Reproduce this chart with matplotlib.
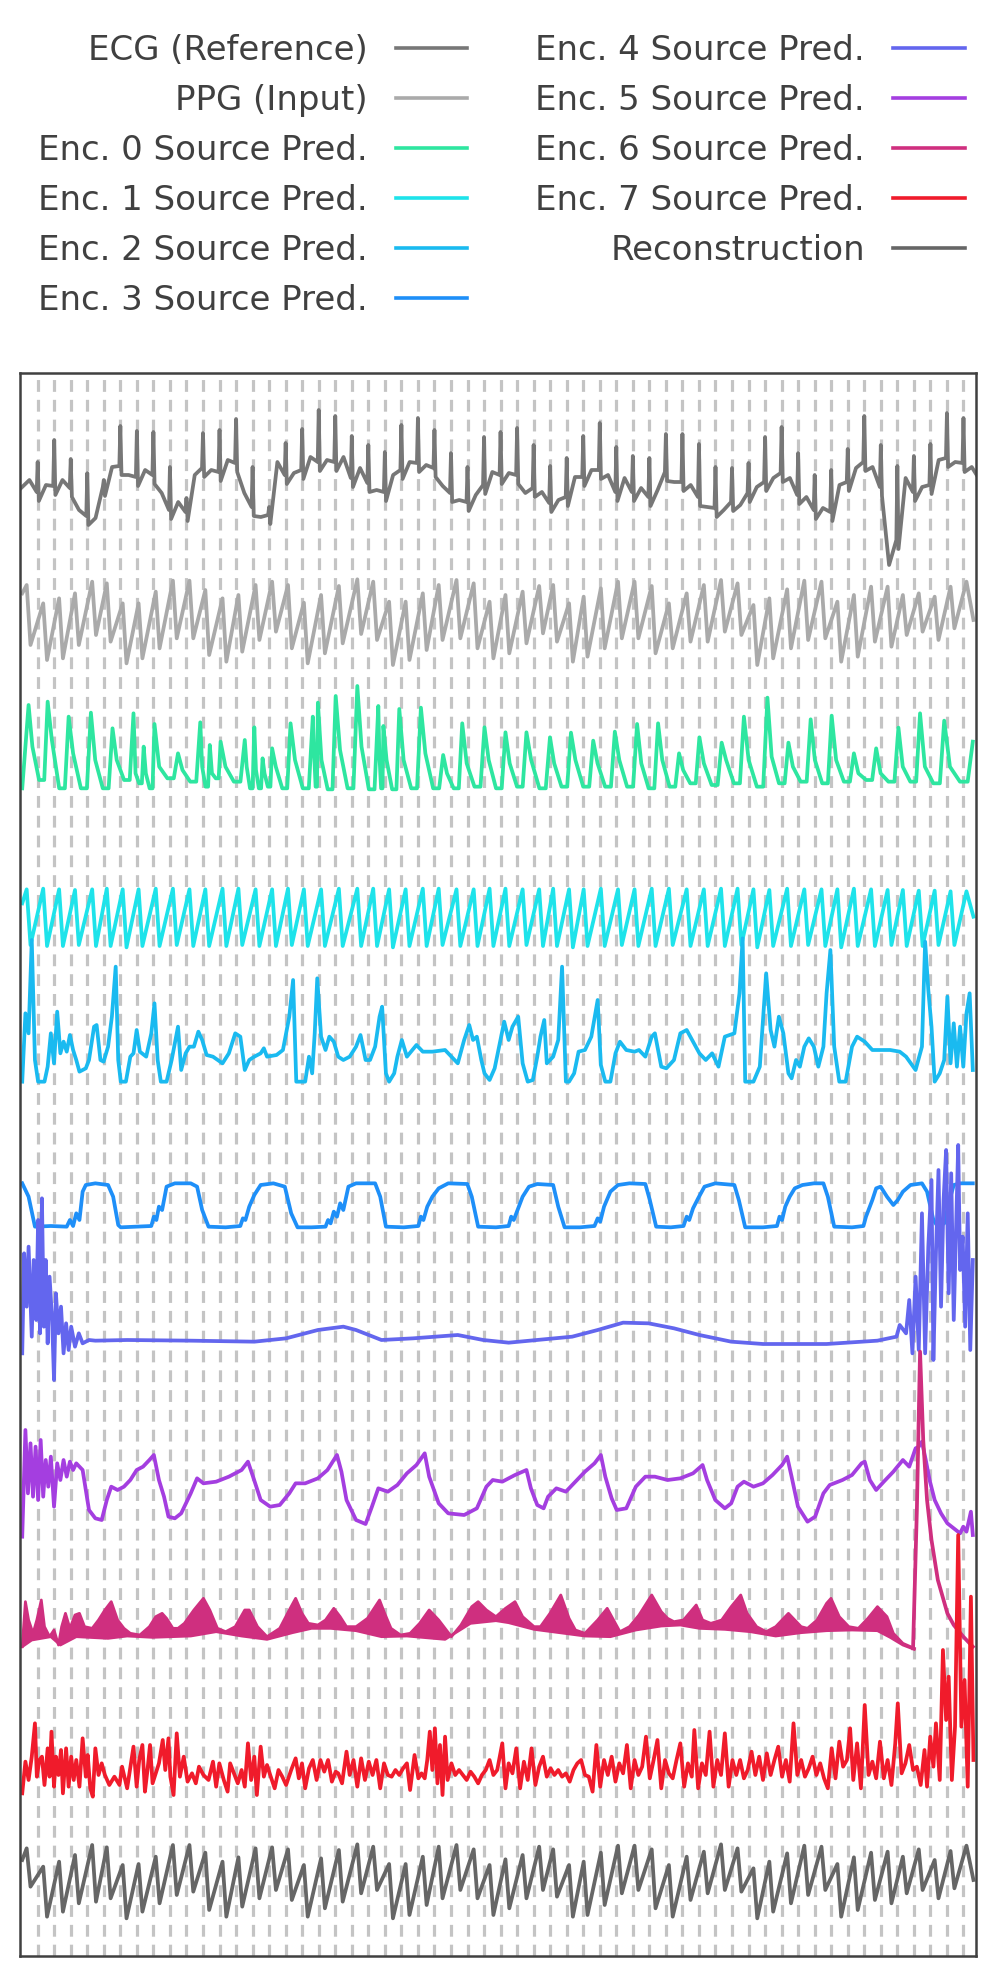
import numpy as np
import matplotlib
matplotlib.use('Agg')
import matplotlib.pyplot as plt
from matplotlib.lines import Line2D

labels = ['ECG (Reference)', 'PPG (Input)',
          'Enc. 0 Source Pred.', 'Enc. 1 Source Pred.', 'Enc. 2 Source Pred.',
          'Enc. 3 Source Pred.', 'Enc. 4 Source Pred.', 'Enc. 5 Source Pred.',
          'Enc. 6 Source Pred.', 'Enc. 7 Source Pred.', 'Reconstruction']
colors = ['#777777', '#aaaaaa', '#2ee6a0', '#1ee3ea', '#1abaf0', '#1e8ff8',
          '#6366ee', '#a43ee0', '#cf2f7f', '#f01b2b', '#666666']

# ---- data (time axis in samples, values as read per trace) ----
n_beats = 57

# ECG baseline every half beat (from beat -1 to 56.5) and R-peak per beat
ecg_base = [488, 480, 492, 485, 486, 480, 488, 510, 516, 518,
            487, 467, 466, 475, 477, 470, 475, 493, 510, 502,
            512, 475, 468, 470, 472, 460, 463, 493, 507, 517,
            515, 462, 475, 473, 470, 457, 462, 460, 462, 457,
            478, 468, 483, 490, 492, 475, 470, 462, 463, 465,
            468, 486, 493, 500, 502, 495, 485, 472, 475, 473,
            475, 493, 488, 492, 503, 500, 497, 477, 477, 470,
            470, 475, 492, 478, 492, 488, 497, 490, 472, 482,
            482, 485, 497, 507, 508, 510, 502, 505, 493, 487,
            482, 478, 473, 478, 495, 497, 510, 508, 512, 485,
            482, 468, 462, 467, 487, 565, 540, 478, 492, 487,
            485, 460, 458, 462, 463, 467]
ecg_peak = [462, 440, 459, 473, 480, 426, 431, 432, 467, 498,
            433, 430, 419, 467, 507, 443, 429, 410, 416, 436,
            445, 452, 425, 418, 430, 453, 467, 437, 432, 428,
            445, 466, 458, 436, 423, 447, 456, 458, 434, 434,
            444, 467, 468, 463, 437, 427, 453, 475, 470, 449,
            416, 445, 466, 456, 444, 413, 418]
ecg_end = 475

# pulse-locked traces: peak times, peak and trough readings
pulse_x = [42, 68, 93, 118, 145, 168, 193, 218, 245, 272, 298, 323, 350, 375, 402,
           428, 453, 478, 505, 533, 562, 587, 612, 638, 665, 690, 718, 745, 770, 795,
           822, 848, 870, 895, 918, 945, 972, 998, 1025, 1052, 1080, 1107, 1134, 1160,
           1185, 1210, 1238, 1265, 1292, 1317, 1343, 1370, 1396, 1420, 1445, 1470,
           1495, 1520]
ppg_peak = [75, 130, 115, 100, 65, 70, 130, 130, 95, 62, 62, 90, 115, 105, 75, 65, 75,
            128, 105, 78, 58, 65, 125, 125, 100, 75, 60, 70, 125, 105, 95, 78, 75, 130,
            110, 85, 65, 65, 78, 130, 100, 75, 60, 70, 135, 115, 88, 62, 65, 125, 105,
            80, 80, 105, 100, 110, 80, 65]
ppg_trough = [255, 300, 295, 255, 225, 245, 310, 295, 265, 235, 235, 285, 305, 275,
              240, 215, 265, 310, 280, 250, 222, 240, 315, 300, 270, 240, 235, 265,
              295, 280, 250, 220, 245, 305, 290, 265, 235, 235, 280, 265, 245, 245,
              215, 225, 315, 295, 265, 240, 235, 305, 290, 245, 260, 225, 215, 240,
              205, 180]
rec_peak = [565, 620, 605, 585, 555, 562, 615, 612, 590, 555, 555, 578, 605, 592, 565,
            562, 568, 615, 595, 570, 553, 560, 612, 612, 590, 560, 555, 568, 615, 598,
            585, 560, 568, 615, 605, 578, 557, 557, 568, 615, 590, 575, 553, 565, 625,
            605, 580, 557, 560, 612, 592, 578, 575, 590, 568, 600, 573, 557]
rec_trough = [680, 770, 755, 730, 725, 715, 775, 755, 730, 705, 695, 750, 770, 740,
              715, 690, 720, 770, 745, 725, 700, 690, 775, 765, 735, 715, 690, 715,
              765, 745, 715, 690, 710, 770, 765, 735, 700, 690, 745, 770, 720, 700,
              690, 695, 775, 755, 730, 705, 690, 770, 750, 720, 730, 700, 690, 715,
              685, 660]
enc1_peak = [88, 86, 88, 90, 88, 86, 88, 88, 86, 86, 88, 88, 86, 86, 88, 88, 86, 88,
             88, 86, 86, 86, 88, 88, 86, 86, 88, 88, 86, 86, 88, 88, 86, 88, 88, 86,
             88, 88, 86, 86, 88, 88, 86, 86, 88, 90, 86, 88, 88, 88, 86, 88, 90, 90,
             92, 92, 94, 94]
enc1_trough = [255, 258, 258, 255, 258, 258, 262, 258, 258, 255, 258, 258, 258, 255,
               258, 258, 255, 258, 258, 258, 258, 258, 262, 258, 258, 255, 258, 258,
               258, 258, 255, 258, 258, 262, 258, 258, 255, 258, 258, 255, 258, 258,
               258, 255, 262, 258, 258, 255, 258, 262, 258, 258, 255, 258, 258, 255,
               255, 170]

# Enc 0: peak time, peak, shoulder, following trough
enc0_x = [45, 75, 108, 143, 177, 210, 226, 243, 280, 315, 330, 347, 385, 400, 413,
          428, 457, 492, 500, 528, 562, 595, 603, 628, 662, 697, 727, 762, 795, 828,
          865, 898, 933, 967, 1002, 1035, 1068, 1100, 1135, 1170, 1207, 1240, 1275,
          1308, 1343, 1378, 1413, 1447, 1485]
enc0_peak = [435, 425, 470, 458, 505, 460, 560, 492, 580, 487, 555, 545, 540, 502, 595,
             565, 490, 470, 428, 408, 378, 438, 498, 447, 443, 585, 490, 502, 517, 517,
             532, 518, 542, 515, 492, 490, 580, 532, 548, 470, 413, 548, 478, 467, 580,
             565, 503, 460, 482]
enc0_shoulder = [560, 540, 580, 600, 600, 640, 640, 620, 630, 620, 640, 620, 620, 630,
                 640, 620, 600, 560, 600, 570, 560, 580, 600, 600, 580, 640, 610, 600,
                 610, 600, 610, 600, 610, 600, 610, 600, 630, 610, 600, 600, 590, 620,
                 600, 600, 640, 640, 620, 620, 620]
enc0_trough = [660, 685, 685, 685, 660, 670, 685, 655, 665, 680, 655, 665, 685, 685,
               680, 685, 685, 680, 688, 685, 688, 685, 688, 685, 685, 685, 680, 685,
               680, 685, 680, 680, 680, 680, 685, 680, 670, 675, 670, 680, 670, 665,
               670, 665, 660, 665, 665, 670, 665]

enc3_pts = [(35, 190), (45, 230), (55, 320), (80, 318), (105, 320), (110, 300), (115, 318),
            (120, 280), (125, 300), (130, 215), (135, 195), (150, 190), (170, 195),
            (178, 230), (186, 315), (190, 322), (215, 320), (238, 318), (242, 290),
            (246, 300), (250, 260), (255, 270), (262, 200), (275, 190), (300, 190),
            (310, 200), (318, 270), (328, 320), (355, 322), (378, 318), (382, 295),
            (386, 300), (392, 260), (400, 225), (410, 195), (430, 190), (448, 200),
            (458, 280), (468, 322), (490, 322), (512, 320), (516, 300), (520, 310),
            (525, 275), (530, 290), (535, 250), (540, 270), (548, 200), (560, 190),
            (590, 190), (598, 230), (607, 320), (635, 322), (658, 318), (662, 290),
            (666, 300), (672, 260), (680, 230), (690, 205), (705, 190), (735, 192),
            (742, 230), (752, 320), (780, 322), (800, 318), (804, 290), (808, 300),
            (815, 265), (822, 230), (832, 200), (845, 192), (870, 195), (878, 260),
            (888, 322), (912, 322), (935, 318), (940, 295), (944, 305), (950, 260),
            (960, 215), (972, 195), (990, 190), (1015, 192), (1022, 240), (1032, 320),
            (1055, 322), (1075, 318), (1080, 290), (1084, 300), (1090, 265), (1098, 235),
            (1108, 200), (1125, 190), (1155, 195), (1162, 240), (1172, 322), (1200, 322),
            (1222, 318), (1226, 290), (1230, 300), (1235, 260), (1242, 230), (1250, 205),
            (1262, 195), (1280, 190), (1295, 190), (1302, 230), (1312, 320), (1340, 322),
            (1358, 318), (1362, 290), (1366, 270), (1372, 240), (1378, 205), (1385, 200),
            (1395, 230), (1405, 255), (1412, 240), (1420, 215), (1432, 195), (1450, 190),
            (1458, 215), (1468, 300), (1475, 320), (1485, 310), (1492, 250), (1500, 195),
            (1510, 190), (1530, 190)]

enc2_pts = [(35, 665), (40, 460), (45, 520), (50, 240), (55, 600), (60, 665), (70, 665),
            (75, 620), (80, 520), (85, 610), (90, 455), (95, 580), (100, 545), (105, 575),
            (110, 525), (115, 570), (120, 600), (125, 635), (135, 625), (140, 600),
            (148, 500), (152, 495), (158, 600), (163, 605), (170, 560), (176, 470),
            (182, 320), (186, 600), (190, 665), (198, 665), (205, 590), (210, 580),
            (215, 510), (220, 575), (230, 590), (238, 520), (243, 430), (248, 600),
            (253, 665), (262, 665), (270, 600), (280, 500), (285, 630), (292, 580),
            (298, 560), (305, 560), (312, 515), (318, 540), (325, 585), (335, 590),
            (350, 610), (360, 580), (370, 520), (378, 530), (385, 630), (392, 600),
            (400, 590), (410, 580), (415, 565), (420, 590), (435, 585), (445, 570),
            (455, 470), (461, 360), (466, 665), (480, 665), (486, 590), (491, 640),
            (495, 520), (499, 355), (505, 530), (512, 570), (518, 530), (525, 545),
            (532, 590), (540, 600), (550, 590), (560, 560), (567, 525), (575, 600),
            (582, 600), (590, 560), (597, 470), (601, 440), (607, 640), (612, 665),
            (620, 640), (625, 590), (632, 540), (640, 590), (655, 555), (665, 575),
            (680, 575), (700, 570), (710, 590), (720, 610), (730, 540), (738, 495),
            (744, 540), (750, 530), (757, 600), (762, 640), (770, 660), (778, 625),
            (785, 560), (793, 485), (800, 540), (806, 500), (815, 470), (822, 610),
            (830, 665), (838, 660), (845, 590), (850, 530), (856, 480), (860, 610),
            (870, 590), (878, 540), (884, 320), (890, 665), (895, 665), (903, 640),
            (910, 575), (920, 570), (930, 530), (940, 420), (945, 615), (952, 665),
            (960, 665), (968, 580), (975, 545), (985, 570), (998, 575), (1005, 570),
            (1015, 590), (1025, 530), (1030, 520), (1040, 620), (1048, 625), (1060, 600),
            (1070, 520), (1080, 510), (1090, 545), (1100, 580), (1110, 600), (1120, 580),
            (1130, 620), (1140, 530), (1155, 520), (1163, 400), (1168, 235), (1172, 665),
            (1185, 665), (1195, 620), (1205, 340), (1212, 510), (1218, 560), (1225, 470),
            (1232, 520), (1240, 640), (1245, 655), (1252, 600), (1258, 620), (1265, 560),
            (1272, 535), (1280, 560), (1287, 620), (1295, 560), (1300, 400), (1306, 270),
            (1312, 560), (1320, 665), (1330, 665), (1340, 560), (1348, 530), (1360, 545),
            (1372, 570), (1385, 570), (1400, 570), (1415, 575), (1425, 590), (1440, 630),
            (1450, 560), (1455, 245), (1460, 390), (1465, 500), (1470, 665), (1478, 640),
            (1485, 600), (1490, 410), (1495, 610), (1500, 490), (1505, 620), (1510, 500),
            (1515, 620), (1520, 460), (1525, 400), (1530, 630)]

enc4_pts = [(35, 700), (38, 400), (42, 560), (45, 380), (50, 650), (53, 420), (57, 600),
            (60, 300), (63, 640), (66, 235), (69, 620), (72, 420), (75, 670), (78, 470),
            (82, 600), (85, 780), (88, 520), (92, 640), (96, 560), (100, 700), (104, 610),
            (108, 690), (112, 620), (118, 680), (124, 640), (130, 670), (140, 660),
            (150, 662), (200, 660), (300, 662), (400, 665), (450, 655), (500, 630),
            (540, 620), (560, 630), (600, 660), (650, 655), (720, 645), (760, 660),
            (800, 668), (900, 650), (940, 630), (980, 608), (1020, 610), (1060, 625),
            (1100, 645), (1150, 665), (1200, 672), (1300, 672), (1380, 662), (1410, 650),
            (1415, 615), (1425, 640), (1430, 540), (1435, 700), (1440, 470), (1445, 690),
            (1450, 280), (1455, 700), (1460, 380), (1465, 180), (1468, 720), (1472, 400),
            (1476, 150), (1480, 560), (1484, 240), (1488, 90), (1492, 520), (1496, 160),
            (1500, 600), (1504, 300), (1507, 75), (1510, 450), (1514, 350), (1518, 620),
            (1522, 280), (1526, 690), (1530, 420)]

enc5_pts = [(35, 470), (40, 150), (44, 340), (48, 190), (52, 350), (56, 200), (60, 360),
            (64, 180), (68, 350), (72, 240), (76, 320), (80, 230), (85, 380), (90, 250),
            (95, 300), (100, 240), (105, 290), (110, 245), (115, 270), (120, 250),
            (125, 260), (130, 270), (140, 390), (150, 415), (160, 420), (168, 360),
            (175, 320), (185, 330), (195, 320), (205, 300), (215, 270), (225, 260),
            (235, 240), (242, 225), (250, 300), (258, 350), (265, 410), (275, 415),
            (285, 400), (300, 340), (310, 295), (320, 310), (340, 305), (360, 290),
            (380, 270), (390, 245), (398, 290), (410, 360), (425, 380), (440, 375),
            (455, 340), (465, 310), (480, 310), (500, 295), (515, 270), (530, 225),
            (537, 275), (545, 360), (560, 420), (575, 432), (585, 380), (595, 325),
            (610, 335), (625, 315), (640, 280), (655, 255), (668, 220), (675, 290),
            (690, 370), (705, 400), (730, 405), (750, 385), (765, 320), (775, 300),
            (790, 305), (810, 285), (828, 270), (835, 325), (845, 375), (855, 385),
            (862, 350), (875, 325), (890, 335), (905, 305), (920, 275), (935, 250),
            (945, 225), (952, 290), (962, 355), (970, 390), (985, 385), (1000, 320),
            (1015, 290), (1030, 290), (1050, 300), (1070, 295), (1090, 280), (1105, 255),
            (1112, 300), (1125, 360), (1140, 385), (1150, 370), (1160, 320), (1170, 305),
            (1185, 320), (1200, 310), (1215, 285), (1230, 255), (1238, 230), (1245, 290),
            (1255, 380), (1270, 425), (1282, 410), (1295, 340), (1305, 315), (1325, 300),
            (1340, 285), (1355, 250), (1360, 245), (1368, 300), (1378, 330), (1390, 305),
            (1405, 275), (1420, 240), (1430, 260), (1440, 205), (1445, 200), (1450, 185),
            (1456, 240), (1462, 300), (1470, 360), (1480, 400), (1490, 430), (1500, 445),
            (1510, 460), (1515, 440), (1520, 455), (1527, 395), (1530, 465)]

enc6_upper = [(35, 800), (40, 665), (45, 720), (52, 760), (58, 720), (65, 660), (70, 740),
              (78, 770), (85, 750), (92, 795), (97, 740), (103, 700), (110, 745),
              (118, 705), (125, 700), (133, 740), (145, 745), (155, 720), (165, 690),
              (175, 665), (185, 720), (195, 745), (205, 760), (220, 765), (235, 740),
              (245, 710), (255, 700), (262, 715), (272, 745), (280, 745), (290, 730),
              (305, 690), (320, 655), (330, 690), (342, 745), (355, 755), (370, 740),
              (385, 690), (392, 690), (405, 740), (420, 770), (440, 745), (455, 690),
              (465, 655), (475, 700), (485, 730), (500, 735), (512, 720), (525, 685),
              (535, 710), (545, 740), (560, 740), (578, 715), (597, 660), (605, 700),
              (615, 745), (630, 765), (645, 760), (660, 730), (675, 690), (690, 720),
              (700, 745), (710, 770), (725, 735), (742, 680), (752, 665), (765, 690),
              (780, 710), (795, 685), (810, 665), (822, 710), (840, 740), (850, 740),
              (865, 700), (882, 645), (895, 715), (905, 750), (920, 760), (940, 720),
              (955, 685), (965, 720), (975, 755), (990, 740), (1005, 705), (1025, 645),
              (1040, 695), (1050, 715), (1060, 725), (1075, 720), (1095, 675),
              (1105, 720), (1118, 730), (1135, 720), (1150, 680), (1165, 645),
              (1175, 700), (1190, 740), (1205, 755), (1220, 740), (1240, 700),
              (1250, 720), (1260, 740), (1270, 745), (1285, 720), (1300, 670),
              (1307, 655), (1320, 710), (1335, 740), (1350, 745), (1365, 715),
              (1380, 680), (1395, 710), (1405, 760), (1420, 790), (1438, 805)]
enc6_lower = [(35, 800), (50, 780), (80, 770), (95, 795), (120, 770), (170, 775),
              (200, 768), (240, 772), (300, 768), (340, 755), (380, 768), (420, 778),
              (460, 758), (490, 745), (520, 745), (560, 752), (600, 770), (640, 768),
              (700, 778), (740, 730), (780, 722), (800, 728), (840, 748), (880, 758),
              (920, 768), (960, 770), (1000, 750), (1040, 738), (1070, 735), (1100, 745),
              (1140, 748), (1180, 755), (1220, 768), (1260, 758), (1300, 752),
              (1340, 750), (1380, 752), (1400, 772), (1420, 795), (1438, 808)]
enc6_tail = [(1436, 805), (1442, 390), (1447, -85), (1452, 180), (1458, 360), (1465, 480),
             (1475, 600), (1490, 700), (1500, 735), (1515, 770), (1530, 800)]

enc7_pts = [(35, 400), (40, 305), (45, 360), (50, 290), (55, 190), (58, 350), (62, 300),
            (66, 290), (70, 375), (75, 265), (78, 350), (81, 215), (85, 380), (88, 290),
            (92, 345), (96, 270), (99, 400), (104, 265), (108, 380), (112, 290),
            (116, 360), (120, 300), (125, 380), (130, 235), (135, 350), (138, 285),
            (142, 385), (146, 410), (150, 265), (155, 345), (160, 310), (165, 345),
            (172, 375), (180, 350), (188, 375), (192, 320), (200, 385), (206, 310),
            (210, 260), (215, 380), (219, 300), (224, 255), (228, 395), (232, 330),
            (236, 255), (240, 370), (245, 340), (250, 310), (256, 240), (260, 330),
            (265, 235), (268, 350), (273, 405), (278, 220), (283, 350), (289, 290),
            (295, 365), (302, 340), (308, 370), (313, 320), (320, 345), (328, 360),
            (335, 305), (340, 380), (345, 310), (352, 360), (358, 395), (362, 310),
            (368, 340), (374, 370), (380, 330), (385, 380), (390, 250), (395, 360),
            (400, 290), (404, 405), (410, 260), (415, 350), (420, 315), (425, 345),
            (432, 385), (438, 330), (444, 350), (450, 375), (458, 330), (465, 295),
            (470, 355), (475, 310), (480, 385), (486, 325), (492, 300), (498, 360),
            (504, 300), (510, 335), (516, 300), (522, 365), (528, 335), (532, 340),
            (538, 370), (545, 275), (550, 345), (556, 300), (562, 380), (568, 295),
            (574, 360), (580, 305), (586, 345), (592, 300), (598, 385), (604, 310),
            (610, 345), (616, 350), (622, 330), (628, 345), (634, 325), (640, 310),
            (645, 390), (652, 285), (658, 355), (663, 340), (668, 355), (672, 300),
            (676, 215), (680, 330), (684, 205), (688, 370), (692, 255), (696, 405),
            (700, 230), (704, 360), (710, 310), (716, 345), (722, 330), (728, 345),
            (734, 360), (740, 335), (746, 350), (752, 370), (758, 345), (764, 330),
            (770, 300), (776, 345), (782, 330), (790, 250), (795, 385), (800, 310),
            (806, 340), (812, 265), (818, 385), (824, 305), (830, 360), (836, 265),
            (842, 375), (848, 320), (854, 290), (860, 350), (866, 325), (872, 345),
            (878, 330), (884, 350), (890, 340), (896, 365), (902, 330), (908, 310),
            (914, 300), (920, 345), (926, 350), (932, 395), (938, 255), (944, 380),
            (950, 300), (956, 345), (962, 290), (968, 365), (974, 310), (980, 340),
            (986, 255), (992, 385), (998, 300), (1004, 345), (1010, 320), (1016, 230),
            (1022, 355), (1028, 300), (1034, 240), (1040, 385), (1046, 300), (1052, 340),
            (1058, 355), (1064, 300), (1070, 250), (1076, 380), (1082, 310), (1088, 350),
            (1092, 210), (1098, 385), (1104, 310), (1110, 345), (1116, 215), (1122, 380),
            (1128, 300), (1134, 345), (1140, 220), (1146, 380), (1152, 300), (1158, 345),
            (1164, 300), (1170, 355), (1176, 330), (1182, 275), (1188, 345), (1194, 290),
            (1200, 360), (1206, 280), (1212, 345), (1218, 300), (1224, 260), (1230, 350),
            (1236, 300), (1242, 365), (1248, 190), (1254, 345), (1260, 300), (1266, 350),
            (1272, 325), (1278, 290), (1284, 345), (1290, 310), (1296, 355), (1302, 385),
            (1308, 265), (1314, 355), (1320, 245), (1326, 320), (1332, 300), (1337, 205),
            (1342, 360), (1348, 250), (1354, 385), (1360, 135), (1366, 345), (1372, 305),
            (1378, 355), (1384, 245), (1390, 355), (1396, 300), (1402, 375), (1408, 250),
            (1412, 130), (1418, 340), (1424, 310), (1430, 255), (1436, 330), (1442, 320),
            (1448, 375), (1454, 270), (1458, 380), (1463, 230), (1468, 320), (1472, 190),
            (1478, 360), (1483, -30), (1488, 180), (1492, 50), (1497, 360), (1502, 200),
            (1507, -375), (1512, 200), (1517, 60), (1522, 380), (1527, -190), (1531, 300)]

# vertical placement of each trace on the shared (inverted) axis
band_top = {'ppg': 560, 'enc0': 560, 'enc1': 860, 'enc2': 860, 'enc3': 1120,
            'enc4': 1120, 'enc5': 1380, 'enc6': 1380, 'enc7': 1660, 'rec': 1660}
LW = 2.7


def place(key, v):
    return band_top[key] + np.asarray(v, dtype=float) / 3.0


def beat_to_x(b):
    return 59.3 + 26.0 * np.asarray(b, dtype=float)


def pulse_trace(start, peaks, troughs):
    xs, ys = [35], [start]
    for px, pk, tr in zip(pulse_x, peaks, troughs):
        xs += [px, px + 6]
        ys += [pk, tr]
    xs[-1] = 1531
    return np.array(xs), np.array(ys)


def unzip(pts):
    a = np.array(pts, dtype=float)
    return a[:, 0], a[:, 1]


fig = plt.figure(figsize=(9.97, 19.77), dpi=100)
ax = fig.add_axes([20 / 997, 1 - 1956 / 1977, 956 / 997, (1956 - 373) / 1977])

# dashed beat markers
for xm in beat_to_x(np.arange(n_beats)):
    ax.axvline(xm, color='#c4c4c4', lw=2.3, ls=(0, (3.7, 2.5)), zorder=0)

# ECG
half = np.arange(-1, 56.75, 0.5)
ex, ey = [], []
for b, base in zip(half, ecg_base):
    if b >= 0 and float(b).is_integer():
        pk = ecg_peak[int(b)]
        ex += [b - 0.06, b, b + 0.07]
        ey += [base, pk, base + 9]
    else:
        ex.append(b)
        ey.append(base)
ex.append(56.8)
ey.append(ecg_end)
ax.plot(beat_to_x(ex), ey, color=colors[0], lw=LW)

# PPG
x, v = pulse_trace(100, ppg_peak, ppg_trough)
ax.plot(x, place('ppg', v), color=colors[1], lw=LW)

# Enc 0
gx, gv = [35], [685]
for i, (px, pk, sh, tr) in enumerate(zip(enc0_x, enc0_peak, enc0_shoulder, enc0_trough)):
    nxt = enc0_x[i + 1] if i + 1 < len(enc0_x) else 1530
    gap = nxt - px
    gx += [px, px + 0.2 * gap, px + 0.55 * gap, px + 0.82 * gap]
    gv += [pk, sh, tr, tr]
gx.append(1530)
gv.append(545)
ax.plot(gx, place('enc0', gv), color=colors[2], lw=LW)

# Enc 1
x, v = pulse_trace(130, enc1_peak, enc1_trough)
ax.plot(x, place('enc1', v), color=colors[3], lw=LW)

# Enc 2 .. Enc 5
for key, pts, c in [('enc2', enc2_pts, colors[4]), ('enc3', enc3_pts, colors[5]),
                    ('enc4', enc4_pts, colors[6]), ('enc5', enc5_pts, colors[7])]:
    x, v = unzip(pts)
    ax.plot(x, place(key, v), color=c, lw=LW)

# Enc 6: dense oscillation drawn as a band, then the large excursion at the end
ux, uv = unzip(enc6_upper)
lx, lv = unzip(enc6_lower)
ax.fill(np.concatenate([ux, lx[::-1]]), np.concatenate([place('enc6', uv), place('enc6', lv)[::-1]]),
        color=colors[8], lw=0)
ax.plot(ux, place('enc6', uv), color=colors[8], lw=2.0)
ax.plot(lx, place('enc6', lv), color=colors[8], lw=2.0)
x, v = unzip(enc6_tail)
ax.plot(x, place('enc6', v), color=colors[8], lw=LW)

# Enc 7
x, v = unzip(enc7_pts)
ax.plot(x, place('enc7', v), color=colors[9], lw=LW)

# Reconstruction
x, v = pulse_trace(600, rec_peak, rec_trough)
ax.plot(x, place('rec', v), color=colors[10], lw=LW)

ax.set_xlim(31.5, 1535)
ax.set_ylim(1956, 373)
ax.set_xticks([])
ax.set_yticks([])
for s in ax.spines.values():
    s.set_color('#404040')
    s.set_linewidth(1.8)

handles = [Line2D([], [], color=c, lw=2.6) for c in colors]
fig.legend(handles, labels, ncol=2, loc='upper left', bbox_to_anchor=(38 / 997, 1 - 34 / 1977),
           frameon=False, markerfirst=False, fontsize=24.5, labelcolor='#404040',
           handlelength=2.1, handletextpad=0.83, columnspacing=2.0, labelspacing=0.5,
           borderpad=0, borderaxespad=0)

fig.savefig('out.png', dpi=100)
